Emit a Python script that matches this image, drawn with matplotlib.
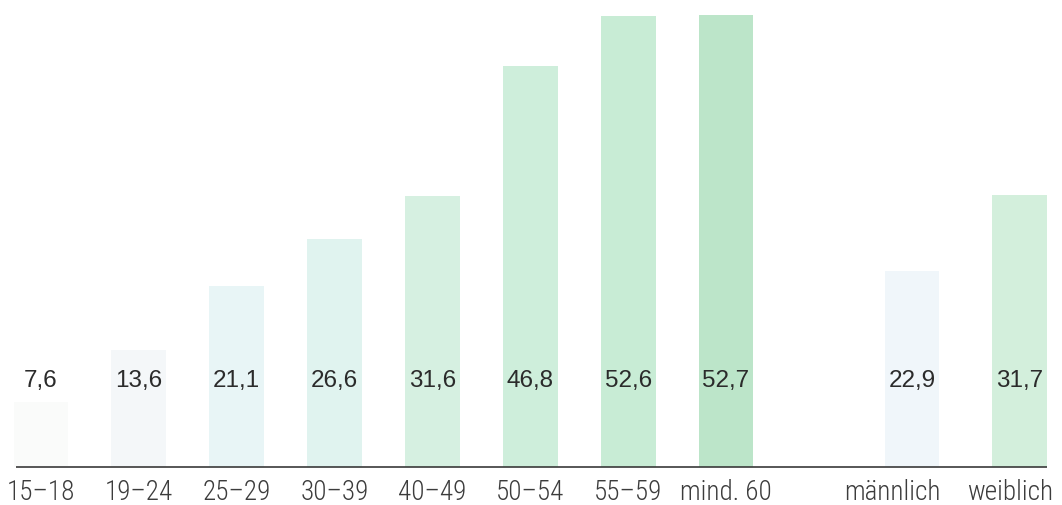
import matplotlib
matplotlib.use("Agg")
import matplotlib.pyplot as plt
from matplotlib import font_manager
import numpy as np

# data
categories = ["15–18", "19–24", "25–29", "30–39", "40–49", "50–54", "55–59", "mind. 60",
              "männlich", "weiblich"]
values = [7.6, 13.6, 21.1, 26.6, 31.6, 46.8, 52.6, 52.7, 22.9, 31.7]
value_labels = ["7,6", "13,6", "21,1", "26,6", "31,6", "46,8", "52,6", "52,7", "22,9", "31,7"]

bar_colors = ["#fafbfa", "#f4f7f9", "#e8f5f6", "#e0f3ef", "#d6f0e1",
              "#ceeedb", "#c8ecd5", "#bce5c9", "#f0f6fa", "#d3efdc"]


def pick_font(candidates):
    installed = {f.name for f in font_manager.fontManager.ttflist}
    for name in candidates:
        if name in installed:
            return name
    return "DejaVu Sans"


cond_font = pick_font(["Roboto Condensed", "Barlow Condensed", "Asap Condensed", "Archivo Narrow"])
value_font = pick_font(["Liberation Sans", "Arimo", "DejaVu Sans"])

# age groups, then a gap, then the two sexes
x = np.concatenate([np.arange(8), [8.9, 10.0]])

fig = plt.figure(figsize=(10.62, 5.06), dpi=100)
ax = fig.add_axes([0, 0, 1, 1])

ax.bar(x, values, width=0.56, color=bar_colors, edgecolor="none")
ax.hlines(0, -0.26, 10.28, color="#3a3a3a", lw=1.2)

for xi, lab in zip(x, value_labels):
    ax.text(xi, 10.2, lab, ha="center", va="center", fontsize=17.5,
            family=value_font, color="#2b2b2b")

label_x = list(x)
label_x[8] = 8.7
label_x[9] = 9.9
for xi, lab in zip(label_x, categories):
    ax.text(xi, -2.85, lab, ha="center", va="center", fontsize=19.5,
            family=cond_font, weight="light", color="#3c3c3c")

ax.set_xlim(-0.419, 10.433)
ax.set_ylim(-4.43, 54.56)
ax.axis("off")

fig.savefig("out.png", dpi=100, facecolor="white")
